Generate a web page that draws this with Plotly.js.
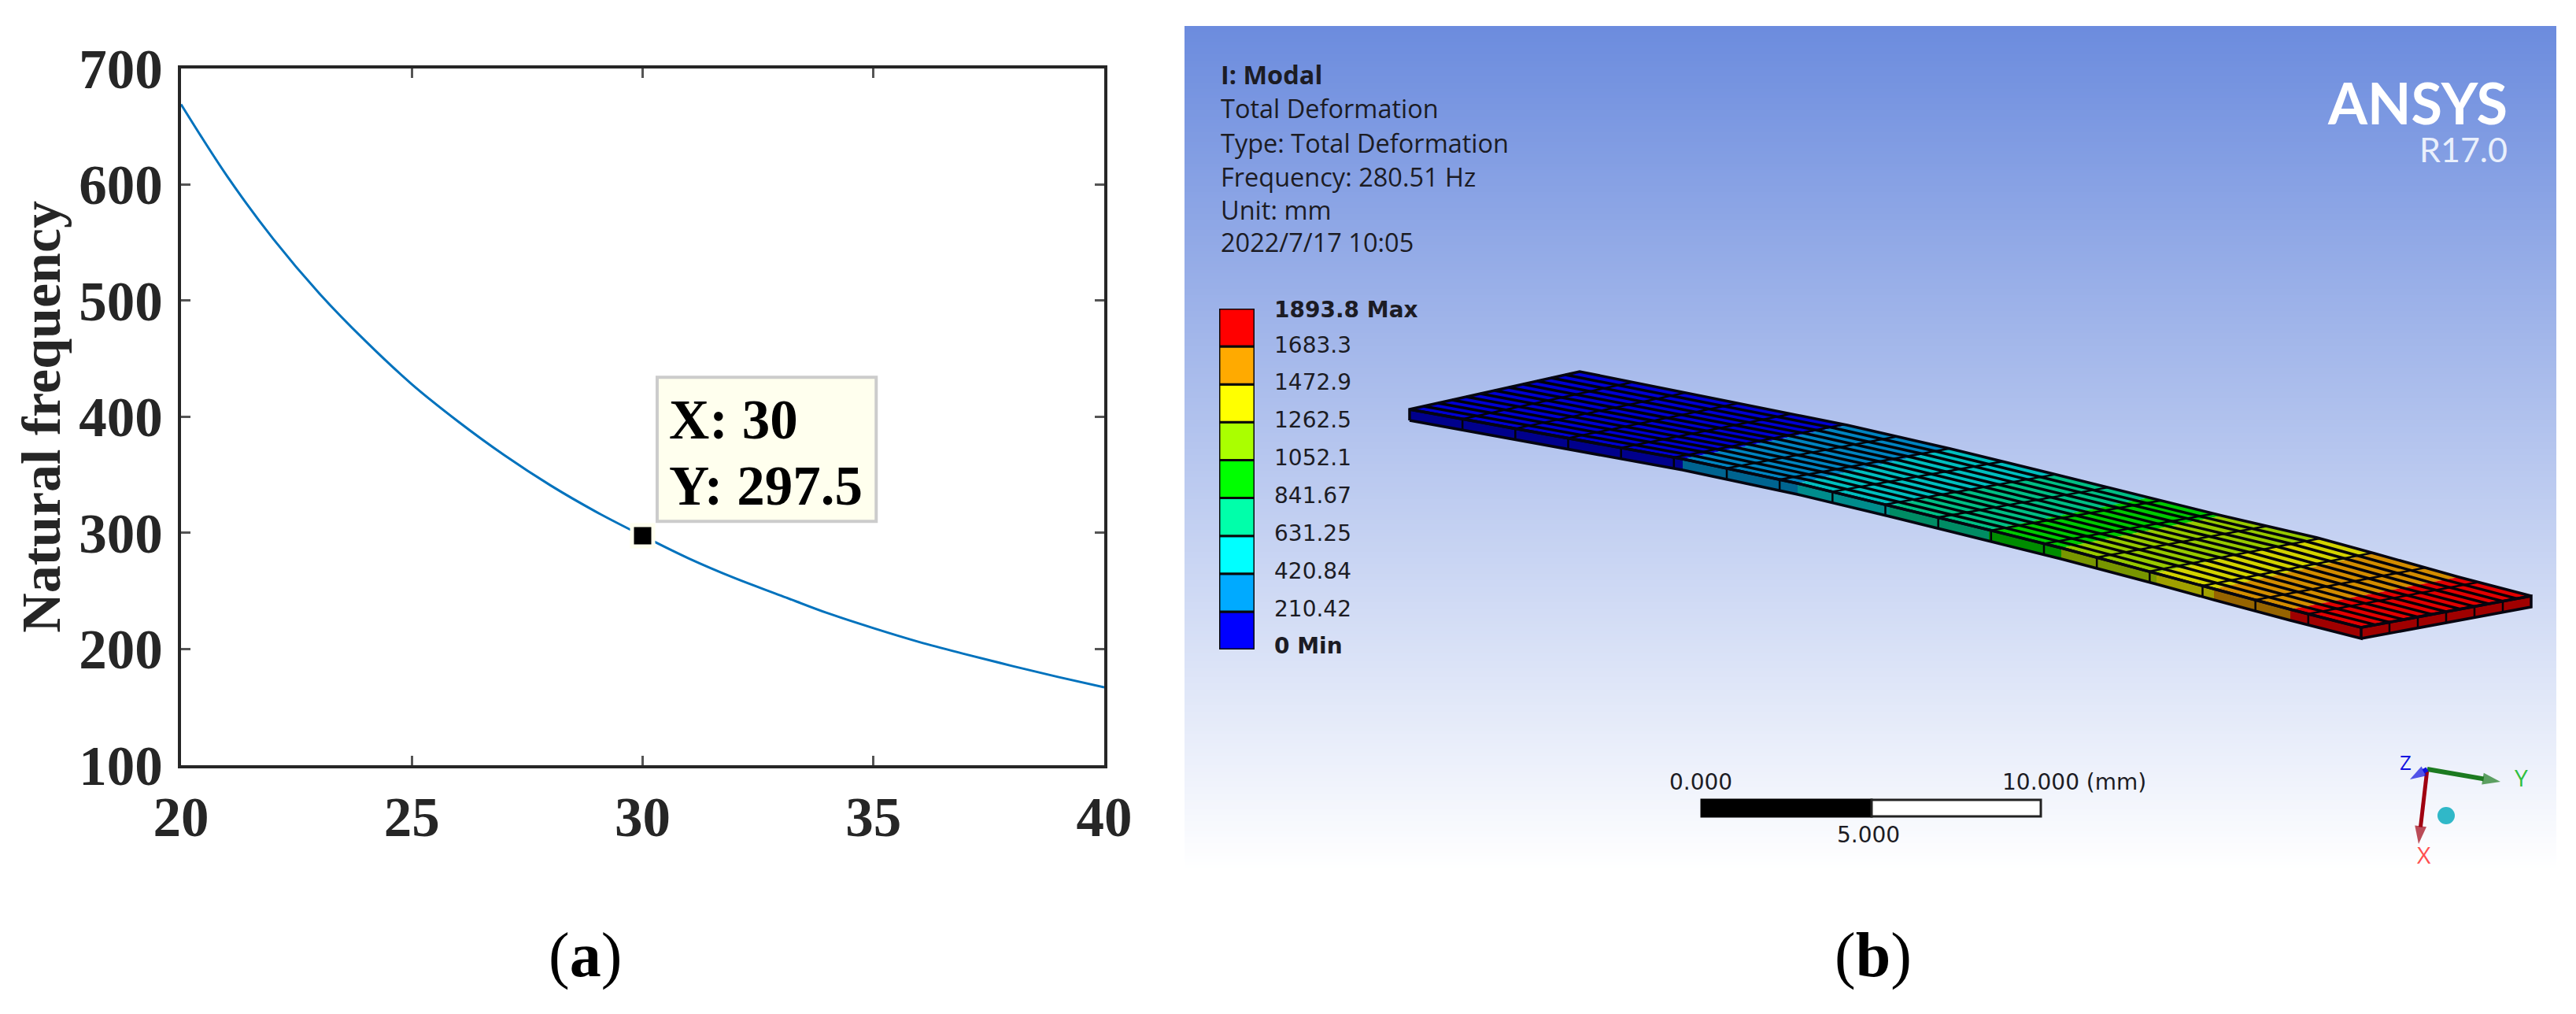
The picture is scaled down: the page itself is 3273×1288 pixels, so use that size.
<!DOCTYPE html>
<html>
<head>
<meta charset="utf-8">
<script src="https://cdn.plot.ly/plotly-3.0.1.min.js"></script>
<style>html,body{margin:0;padding:0;background:#fff}#chart{width:3273px;height:1288px}</style>
</head>
<body>
<div id="chart"></div>
<script>
// ---- panel (a)
const lengthValues = [20,21,22,23,24,25,26,27,28,29,30,31,32,33,34,35,36,37,38,39,40];
const frequencyValues = [669,607,553,506,465,428,396,367,341,318,297.5,278,261,246,231,218,206,195.5,185.5,176,167];
const datatipX = [30];
const datatipY = [297.5];
const datatipLines = ['X: 30','Y: 297.5'];
const xTicks = [20,25,30,35,40];
const yTicks = [100,200,300,400,500,600,700];
const yAxisTitle = 'Natural frequency';

// ---- panel (b): ANSYS legend
const legendSteps = [1,1,1,1,1,1,1,1,1];
const legendColors = ['#0000FF','#00AAFF','#00FFFF','#00FFAA','#00FF00','#AAFF00','#FFFF00','#FFAA00','#FF0000'];
const legendLabels = ['<b>0 Min</b>','210.42','420.84','631.25','841.67','1052.1','1262.5','1472.9','1683.3','<b>1893.8 Max</b>'];
const legendLabelPos = [0.1,1.08,2.08,3.07,4.07,5.07,6.06,7.06,8.05,8.98];
const headerLines = ['<b>I: Modal</b>','Total Deformation','Type: Total Deformation','Frequency: 280.51 Hz','Unit: mm','2022/7/17 10:05'];
const headerY = [94,137,181,224,266,307];

// ---- panel (b): plate model, page-pixel axes
const frontX = [1791,2138,2284,2401,2527,2619,2740,2813,2910,3000];
const frontY = [520,583,614,642,673,696,728,748,774,797];
const backX  = [2007,2347,2478,2609,2731,2823,2944,3017,3124,3216];
const backY  = [472,540,570,602,632,655,683,703,733,757];
const topColors  = ['#0000D2','#0084C0','#00BEBE','#00BE84','#00C800','#96C800','#D2D200','#D28C00','#E10000'];
const sideColors = ['#00008C','#006490','#008C8C','#008C64','#008C00','#789600','#A0A000','#966400','#A00000'];
const plateThickness = 14;
const widthCells = 12, lengthCells = 18, endCells = 6;

const PAGE_W = 3273, PAGE_H = 1288;
const panelX = [1505,3248], panelY = [33,1107];

const traces = [];
// main curve
traces.push({x:lengthValues,y:frequencyValues,mode:'lines',line:{color:'#0072BD',width:3,shape:'spline',smoothing:1},hoverinfo:'skip',showlegend:false});
traces.push({x:datatipX,y:datatipY,mode:'markers',marker:{symbol:'square',size:27,color:'#000',line:{color:'#FFFFEE',width:5}},hoverinfo:'skip',showlegend:false});

// panel gradient
const gradEdges=[],gradZ=[];
const rows=270;
for(let i=0;i<=rows;i++) gradEdges.push(panelY[0]+(panelY[1]-panelY[0])*i/rows);
for(let i=0;i<rows;i++) gradZ.push([i/(rows-1)]);
traces.push({type:'heatmap',x:panelX,y:gradEdges,z:gradZ,zmin:0,zmax:1,showscale:false,hoverinfo:'skip',
  colorscale:[[0,'rgb(108,140,222)'],[1,'rgb(255,255,255)']],xaxis:'x2',yaxis:'y2'});

function poly(xs,ys,fill,lw){
  traces.push({x:xs.concat(xs[0]),y:ys.concat(ys[0]),mode:'lines',fill:'toself',fillcolor:fill,
    line:{color:'#050510',width:lw===undefined?2:lw},xaxis:'x2',yaxis:'y2',hoverinfo:'skip',showlegend:false});
}
// plate faces
for(let b=0;b<topColors.length;b++){
  poly([frontX[b],frontX[b+1],backX[b+1],backX[b]],[frontY[b],frontY[b+1],backY[b+1],backY[b]],topColors[b],0);
  poly([frontX[b],frontX[b+1],frontX[b+1],frontX[b]],[frontY[b],frontY[b+1],frontY[b+1]+plateThickness,frontY[b]+plateThickness],sideColors[b],0);
}
const n=frontX.length-1;
poly([frontX[n],backX[n],backX[n],frontX[n]],[frontY[n],backY[n],backY[n]+plateThickness,frontY[n]+plateThickness],sideColors[n-1],0);

function along(xs,ys,u){
  const X=xs[0]+(xs[xs.length-1]-xs[0])*u;
  for(let i=0;i<xs.length-1;i++){
    if(X<=xs[i+1]||i===xs.length-2){
      const t=(X-xs[i])/(xs[i+1]-xs[i]);
      return [X,ys[i]+(ys[i+1]-ys[i])*t];
    }
  }
}
// mesh lines
const lx=[],ly=[];
for(let k=1;k<widthCells;k++){
  const w=k/widthCells;
  for(let i=0;i<=n;i++){
    lx.push(frontX[i]+(backX[i]-frontX[i])*w);
    ly.push(frontY[i]+(backY[i]-frontY[i])*w);
  }
  lx.push(null);ly.push(null);
}
traces.push({x:lx,y:ly,mode:'lines',line:{color:'#020208',width:3.5},xaxis:'x2',yaxis:'y2',hoverinfo:'skip',showlegend:false});
const cx=[],cy=[];
for(let k=1;k<lengthCells;k++){
  const u=k/lengthCells;
  const f=along(frontX,frontY,u), g=along(backX,backY,u);
  cx.push(f[0],f[0],g[0],null); cy.push(f[1]+plateThickness,f[1],g[1],null);
}
for(let k=1;k<endCells;k++){
  const w=k/endCells;
  const ex=frontX[n]+(backX[n]-frontX[n])*w, ey=frontY[n]+(backY[n]-frontY[n])*w;
  cx.push(ex,ex,null); cy.push(ey,ey+plateThickness,null);
}
traces.push({x:cx,y:cy,mode:'lines',line:{color:'#020208',width:2.5},xaxis:'x2',yaxis:'y2',hoverinfo:'skip',showlegend:false});
// plate outline
const ox=[...frontX,...frontX.slice().reverse(),null,frontX[n],backX[n],backX[n],frontX[n],null,...frontX,backX[n],...backX.slice().reverse(),frontX[0],frontX[0]];
const oy=[...frontY,...frontY.map(v=>v+plateThickness).reverse(),null,frontY[n],backY[n],backY[n]+plateThickness,frontY[n]+plateThickness,null,...frontY,backY[n],...backY.slice().reverse(),frontY[0],frontY[0]+plateThickness];
traces.push({x:ox,y:oy,mode:'lines',line:{color:'#050510',width:3.5},xaxis:'x2',yaxis:'y2',hoverinfo:'skip',showlegend:false});

// triad
function arrow(xs,ys,color,w,size){
  traces.push({x:xs,y:ys,mode:'lines+markers',line:{color:color,width:w},
    marker:{symbol:'arrow',angleref:'previous',size:[0,size],color:color,line:{width:0}},
    xaxis:'x2',yaxis:'y2',hoverinfo:'skip',showlegend:false});
}
arrow([3084,3073],[977,1072],'#A00010',5,24);
arrow([3084,3177],[977,993],'#1C7A20',6,24);
arrow([3084,3062],[977,990],'#1010E0',6,22);
traces.push({x:[3108],y:[1036],mode:'markers',marker:{symbol:'circle',size:22,color:'#30B8C8'},xaxis:'x2',yaxis:'y2',hoverinfo:'skip',showlegend:false});

// legend bar
traces.push({type:'bar',x:legendSteps.map(()=>0),y:legendSteps,width:1,marker:{color:legendColors,line:{color:'#0A0A0A',width:3}},
  xaxis:'x3',yaxis:'y3',hoverinfo:'skip',showlegend:false});

const tickFont={family:'"Liberation Serif", serif',size:71,color:'#262626',weight:'bold'};
const panelFont={family:'"DejaVu Sans", sans-serif',size:28,color:'#1C1C24'};
const headerFont={family:'"Open Sans", sans-serif',size:32.5,color:'#1C1C24'};
const ann=[];
const pageAnn=(x,y,text,font,anchor)=>ann.push({xref:'x2',yref:'y2',x:x,y:y,text:text,showarrow:false,xanchor:anchor||'left',yanchor:'middle',font:font,align:'left'});
headerLines.forEach((t,i)=>pageAnn(1549,headerY[i],t,headerFont));
pageAnn(3188,130,'<b>ANSYS</b>',{family:'Lato, sans-serif',size:72,color:'#FFFFFF'},'right');
pageAnn(3188,189,'R17.0',{family:'Lato, sans-serif',size:43,color:'#EAF0FC'},'right');
pageAnn(2161,993,'0.000',panelFont,'center');
pageAnn(2374,1060,'5.000',panelFont,'center');
pageAnn(2542,993,'10.000 (mm)',panelFont);
pageAnn(3056,968,'Z',{family:'"Open Sans", sans-serif',size:26,color:'#1010E0'},'center');
pageAnn(3203,987,'Y',{family:'"Open Sans", sans-serif',size:30,color:'#30C040'},'center');
pageAnn(3080,1085,'X',{family:'"Open Sans", sans-serif',size:30,color:'#FF5050'},'center');
pageAnn(743,1213,'(<b>a</b>)',{family:'"Liberation Serif", serif',size:80,color:'#000'},'center');
pageAnn(2380,1213,'(<b>b</b>)',{family:'"Liberation Serif", serif',size:80,color:'#000'},'center');
// datatip text, anchored to the data scale
ann.push({xref:'x',yref:'y',x:30.54,y:397.3,text:datatipLines[0],showarrow:false,xanchor:'left',yanchor:'middle',font:{family:'"Liberation Serif", serif',size:71,color:'#000',weight:'bold'}});
ann.push({xref:'x',yref:'y',x:30.54,y:340.4,text:datatipLines[1],showarrow:false,xanchor:'left',yanchor:'middle',font:{family:'"Liberation Serif", serif',size:71,color:'#000',weight:'bold'}});

const shapes=[
  {type:'rect',xref:'x',yref:'y',x0:30.315,x1:35.06,y0:309.9,y1:433.9,fillcolor:'#FFFFEE',line:{color:'#CCCCCC',width:4},layer:'below'},
  {type:'rect',xref:'x2',yref:'y2',x0:2162,x1:2378,y0:1016,y1:1037,fillcolor:'#000',line:{color:'#000',width:3}},
  {type:'rect',xref:'x2',yref:'y2',x0:2378,x1:2593,y0:1016,y1:1037,fillcolor:'#fff',line:{color:'#222',width:3}}
];

const layout={
  width:PAGE_W,height:PAGE_H,margin:{l:0,r:0,t:0,b:0,pad:0},paper_bgcolor:'#fff',plot_bgcolor:'rgba(0,0,0,0)',showlegend:false,barmode:'stack',
  xaxis:{domain:[230/PAGE_W,1403/PAGE_W],range:[20,40],tickvals:xTicks,ticks:'inside',ticklen:12,tickwidth:3,tickcolor:'#555',
    showline:true,mirror:'allticks',linecolor:'#262626',linewidth:4,showgrid:false,zeroline:false,tickfont:tickFont,ticklabelstandoff:1,anchor:'y'},
  yaxis:{domain:[1-972/PAGE_H,1-86.7/PAGE_H],range:[100,700],tickvals:yTicks,ticks:'inside',ticklen:12,tickwidth:3,tickcolor:'#555',
    showline:true,mirror:'allticks',linecolor:'#262626',linewidth:4,showgrid:false,zeroline:false,tickfont:tickFont,ticklabelstandoff:5,anchor:'x',
    title:{text:yAxisTitle,font:{family:'"Liberation Serif", serif',size:70,color:'#262626',weight:'bold'},standoff:2},automargin:false},
  xaxis2:{domain:[0,1],range:[0,PAGE_W],visible:false,anchor:'y2'},
  yaxis2:{domain:[0,1],range:[PAGE_H,0],visible:false,anchor:'x2'},
  xaxis3:{domain:[1549/PAGE_W,1594/PAGE_W],range:[-0.5,0.5],visible:false,anchor:'y3'},
  yaxis3:{domain:[1-825/PAGE_H,1-392/PAGE_H],range:[0,9],side:'right',anchor:'x3',showgrid:false,zeroline:false,showline:false,ticks:'',
    tickvals:legendLabelPos,ticktext:legendLabels,tickfont:panelFont,ticklabelstandoff:24},
  shapes:shapes,annotations:ann
};
Plotly.newPlot('chart',traces,layout,{displayModeBar:false,staticPlot:true});
</script>
</body>
</html>
